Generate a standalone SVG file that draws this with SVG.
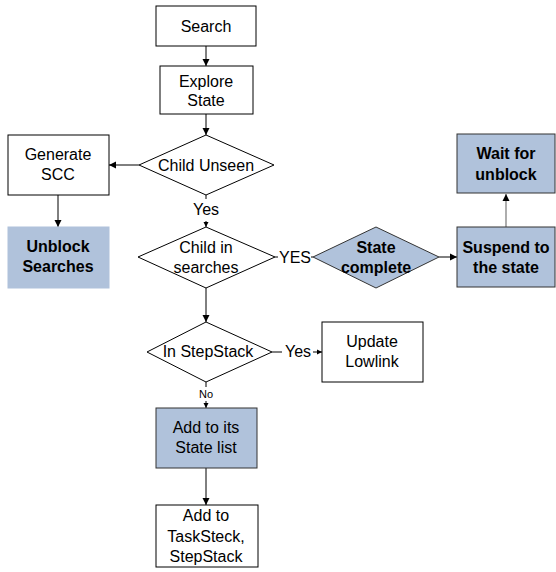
<svg xmlns="http://www.w3.org/2000/svg" width="556" height="572" viewBox="0 0 556 572">
<defs>
<marker id="ah" markerWidth="8" markerHeight="8" refX="7" refY="4" orient="auto" markerUnits="userSpaceOnUse">
<path d="M0,0.5 L7,4 L0,7.5 Z" fill="#000"/>
</marker>
<marker id="ahs" markerWidth="6" markerHeight="6" refX="5" refY="3" orient="auto" markerUnits="userSpaceOnUse">
<path d="M0,0.5 L5,3 L0,5.5 Z" fill="#000"/>
</marker>
</defs>
<style>
.w{fill:#fff;stroke:#000;stroke-width:1}
.b{fill:#B0C2DB;stroke:#333;stroke-width:1}
text{font-family:"Liberation Sans",Arial,sans-serif;font-size:16px;text-anchor:middle;fill:#000}
.bd{font-weight:bold}
.c{fill:none;stroke:#000;stroke-width:1}
.g{fill:none;stroke:#777;stroke-width:1.2}
</style>
<rect width="556" height="572" fill="#fff"/>
<g id="connectors">
<line class="c" x1="206" y1="46" x2="206" y2="66" marker-end="url(#ah)"/>
<line class="c" x1="206" y1="114" x2="206" y2="135" marker-end="url(#ah)"/>
<line class="c" x1="139" y1="165" x2="109" y2="165" marker-end="url(#ah)"/>
<line class="c" x1="58" y1="195" x2="58" y2="227" marker-end="url(#ah)"/>
<line class="c" x1="206" y1="195" x2="206" y2="199"/>
<line class="c" x1="206" y1="221" x2="206" y2="227" marker-end="url(#ahs)"/>
<text x="206" y="215">Yes</text>
<line class="c" x1="275" y1="257" x2="278" y2="257"/>
<line class="c" x1="311" y1="257" x2="313" y2="257"/>
<text x="295" y="263">YES</text>
<line class="c" x1="439" y1="257" x2="457" y2="257" marker-end="url(#ah)"/>
<line class="g" x1="506" y1="227" x2="506" y2="194" marker-end="url(#ah)"/>
<line class="c" x1="206" y1="288" x2="206" y2="322" marker-end="url(#ah)"/>
<line class="c" x1="272" y1="352" x2="282" y2="352"/>
<line class="c" x1="313" y1="352" x2="322" y2="352" marker-end="url(#ahs)"/>
<text x="298" y="357">Yes</text>
<line class="c" x1="206" y1="382" x2="206" y2="387"/>
<line class="c" x1="206" y1="401" x2="206" y2="408" marker-end="url(#ahs)"/>
<text x="206" y="398" style="font-size:11px">No</text>
<line class="c" x1="206" y1="468" x2="206" y2="505" marker-end="url(#ah)"/>
</g>
<g id="search"><rect class="w" x="156" y="6" width="100" height="40"/><text x="206" y="32">Search</text></g>
<g id="explore"><rect class="w" x="160" y="66" width="93" height="48"/><text x="206" y="87">Explore</text><text x="206" y="106">State</text></g>
<g id="childUnseen"><polygon class="w" points="206,135 274,165 206,195 139,165"/><text x="206" y="171">Child Unseen</text></g>
<g id="generateSCC"><rect class="w" x="8" y="135" width="101" height="60"/><text x="58" y="160">Generate</text><text x="58" y="180">SCC</text></g>
<g id="unblock"><rect class="b" x="8" y="227" width="101" height="61" style="stroke:#B0C2DB"/><text class="bd" x="58" y="252">Unblock</text><text class="bd" x="58" y="272">Searches</text></g>
<g id="childInSearches"><polygon class="w" points="206,227 275,257 206,288 138,257"/><text x="206" y="253">Child in</text><text x="206" y="273">searches</text></g>
<g id="stateComplete"><polygon class="b" points="376,227 439,257 376,288 313,257"/><text class="bd" x="376" y="253">State</text><text class="bd" x="376" y="273">complete</text></g>
<g id="suspend"><rect class="b" x="457" y="227" width="98" height="60"/><text class="bd" x="506" y="253">Suspend to</text><text class="bd" x="506" y="273">the state</text></g>
<g id="wait"><rect class="b" x="457" y="134" width="98" height="59"/><text class="bd" x="506" y="159">Wait for</text><text class="bd" x="506" y="180">unblock</text></g>
<g id="inStepStack"><polygon class="w" points="206,322 272,352 206,382 147,352"/><text x="208" y="357">In StepStack</text></g>
<g id="updateLowlink"><rect class="w" x="322" y="322" width="101" height="60"/><text x="372" y="347">Update</text><text x="372" y="367">Lowlink</text></g>
<g id="addStateList"><rect class="b" x="156" y="408" width="101" height="60"/><text x="206" y="433">Add to its</text><text x="206" y="453">State list</text></g>
<g id="addTaskSteck"><rect class="w" x="156" y="505" width="102" height="62"/><text x="206" y="521">Add to</text><text x="206" y="542">TaskSteck,</text><text x="206" y="562">StepStack</text></g>
</svg>
